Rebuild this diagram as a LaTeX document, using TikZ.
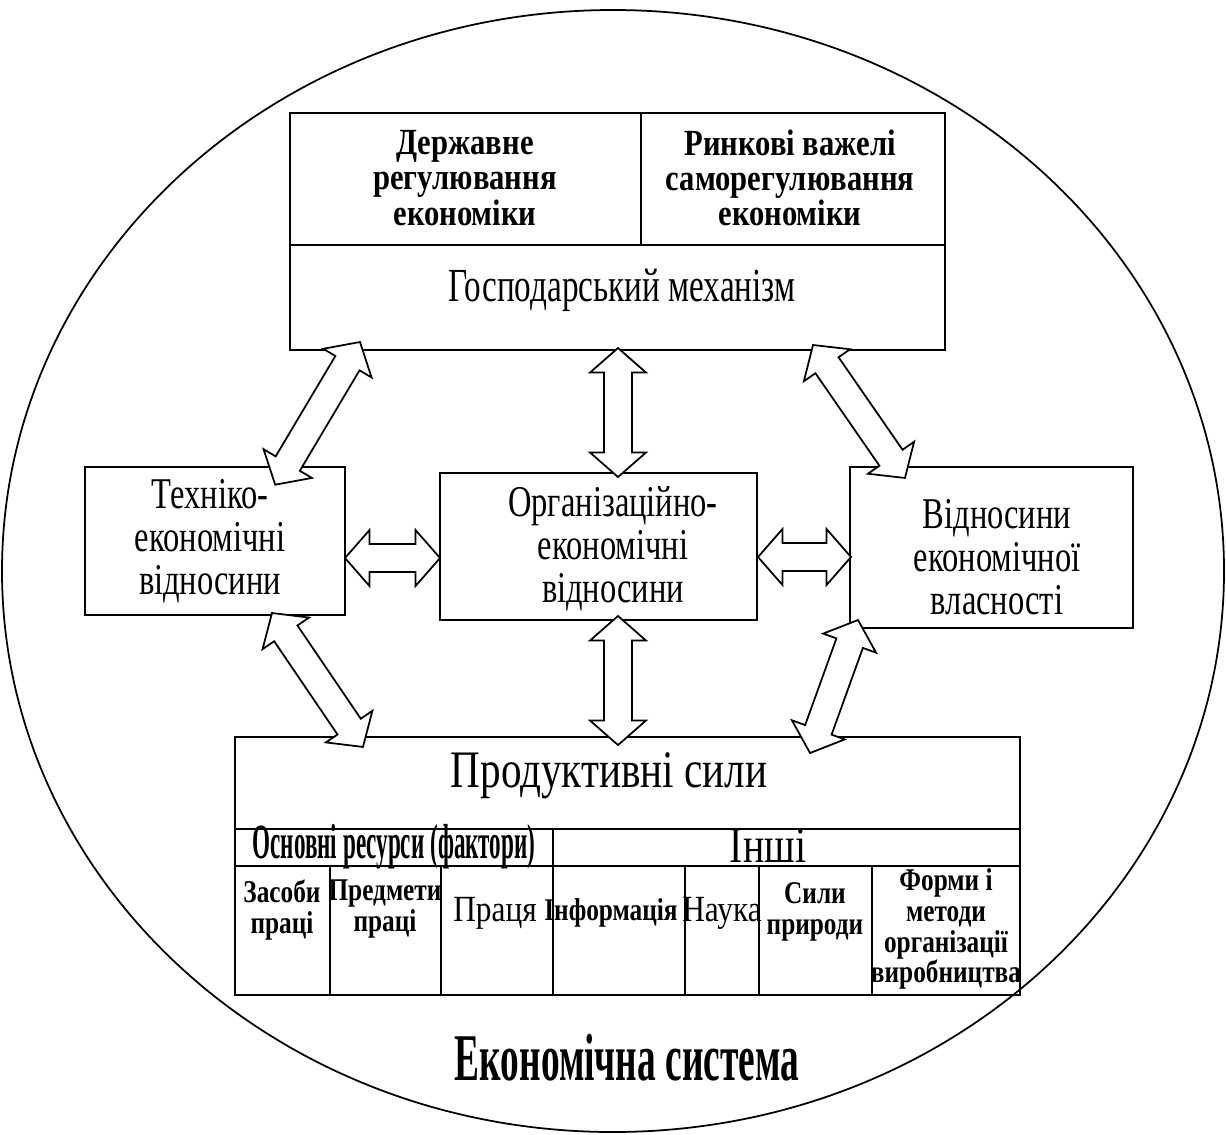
\documentclass[tikz,border=0pt]{standalone}
\usepackage{fontspec}
\setmainfont{Liberation Serif}
\usepackage{tikz}
\usetikzlibrary{calc,fit}
\tikzstyle{box} = [draw, line width=1pt, inner sep=0pt]
\tikzstyle{rule} = [line width=1pt]
\tikzstyle{arrowbody} = [draw, fill=white, line width=1pt, line join=miter]
\tikzstyle{lever} = [align=center, inner sep=0pt, font=\fontsize{21}{20}\selectfont\addfontfeatures{FakeStretch=0.83}\bfseries]
\tikzstyle{title} = [align=center, inner sep=0pt, font=\fontsize{27}{28}\selectfont\addfontfeatures{FakeStretch=0.7}]
\tikzstyle{relation} = [align=center, inner sep=0pt, font=\fontsize{25}{24.5}\selectfont\addfontfeatures{FakeStretch=0.74}]
\tikzstyle{cell} = [align=center, inner sep=0pt, font=\fontsize{18}{17.5}\selectfont\addfontfeatures{FakeStretch=0.8}\bfseries]
\tikzstyle{plaincell} = [align=center, inner sep=0pt, font=\fontsize{21}{20}\selectfont\addfontfeatures{FakeStretch=0.85}]
% hollow double arrow from #1 to #2
\newcommand\dblarrow[2]{%
  \path[arrowbody] let \p1=#1, \p2=#2, \n1={atan2(\y2-\y1,\x2-\x1)},
    \n2={veclen(\x2-\x1,\y2-\y1)} in [shift={(\x1,\y1)}, rotate=\n1]
    (0pt,0pt) -- (14pt,16pt) -- (14pt,8pt) -- (\n2-14pt,8pt) -- (\n2-14pt,16pt)
    -- (\n2,0pt) -- (\n2-14pt,-16pt) -- (\n2-14pt,-8pt) -- (14pt,-8pt)
    -- (14pt,-16pt) -- cycle;}

\begin{document}
\begin{tikzpicture}[x=0.02cm, y=-0.02cm]
\useasboundingbox (0,0) rectangle (1226,1134);
\draw[rule] (613,571) ellipse [x radius=611, y radius=561];

% mechanism
\node[box, fit={(290,113) (945,350)}] (gosp) {};
\draw[rule] (290,245) -- (945,245) (641,113) -- (641,245);
\node[lever] (derzh) at (465,178) {Державне\\регулювання\\економіки};
\node[lever] (rynok) at (790,178) {Ринкові важелі\\саморегулювання\\економіки};
\node[title] (gosptext) at (622,290) {Господарський механізм};

% relations
\node[box, fit={(85,467) (345,615)}] (tech) {};
\node[relation] at (210,541) {Техніко-\\економічні\\відносини};
\node[box, fit={(440,473) (757,620)}] (org) {};
\node[relation] at (613,549) {Організаційно-\\економічні\\відносини};
\node[box, fit={(850,467) (1133,628)}] (vlasn) {};
\node[relation] at (997,557) {Відносини\\економічної\\власності};

% productive forces
\node[box, fit={(235,737) (1020,995)}] (prod) {};
\node[title, font=\fontsize{30}{30}\selectfont\addfontfeatures{FakeStretch=0.78}] at (609,776) {Продуктивні сили};
\draw[rule] (235,829) -- (1020,829) (235,866) -- (1020,866) (553,829) -- (553,995);
\foreach \x in {330,441,685,759,872}
  \draw[rule] (\x,866) -- (\x,995);
\node[title, font=\fontsize{28}{28}\selectfont\addfontfeatures{FakeStretch=0.47}\bfseries] at (394,847) {Основні ресурси (фактори)};
\node[title, font=\fontsize{29}{28}\selectfont\addfontfeatures{FakeStretch=0.78}] at (768,846) {Інші};
\node[cell] at (282,910) {Засоби\\праці};
\node[cell] at (385,909) {Предмети\\праці};
\node[plaincell] at (495,913) {Праця};
\node[cell] at (611,913) {Інформація};
\node[plaincell] at (722,913) {Наука};
\node[cell] at (815,912) {Сили\\природи};
\node[cell] at (946,929) {Форми і\\методи\\організації\\виробництва};

% links
\dblarrow{(618,348)}{(618,477)}
\dblarrow{(618,616)}{(618,745)}
\dblarrow{(345,558)}{(440,558)}
\dblarrow{(758,557)}{(851,557)}
\dblarrow{(360,342)}{(275,485)}
\dblarrow{(813,345)}{(905,478)}
\dblarrow{(272,613)}{(363,747)}
\dblarrow{(858,620)}{(810,753)}

\node[title, font=\fontsize{38}{38}\selectfont\addfontfeatures{FakeStretch=0.56}\bfseries] at (627,1058) {Економічна система};
\end{tikzpicture}
\end{document}
